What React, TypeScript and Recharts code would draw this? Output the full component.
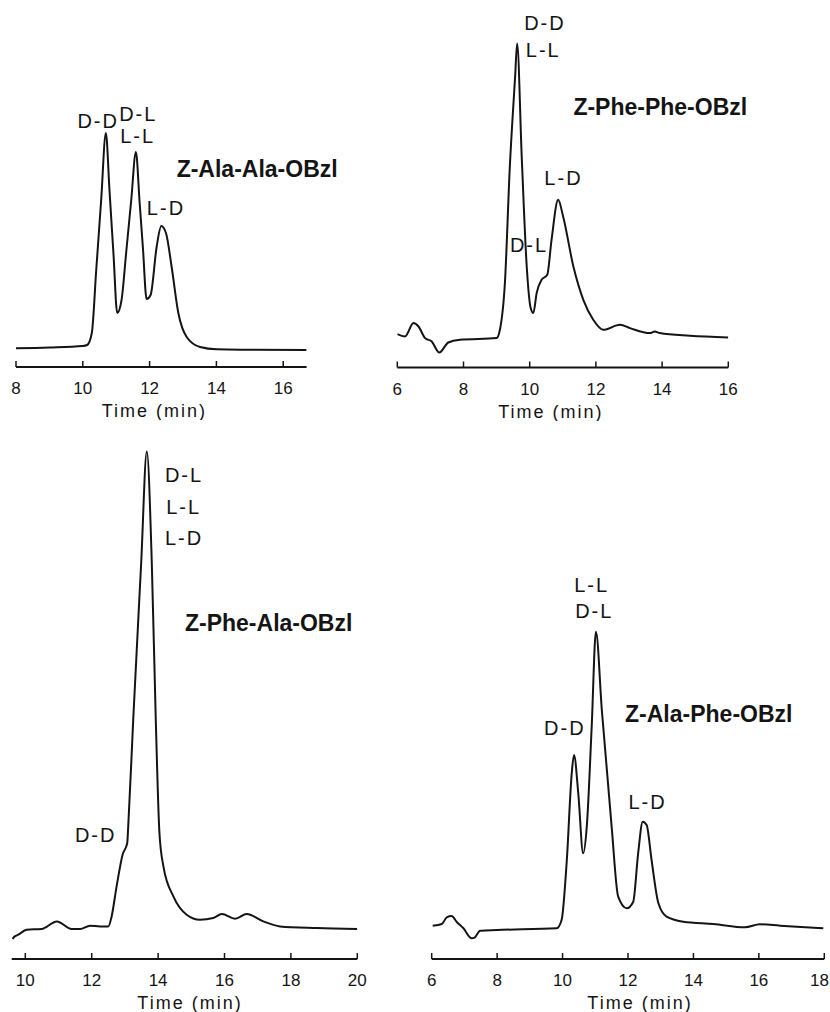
import React from "react";
import { LineChart, Line, XAxis, YAxis, ReferenceDot } from "recharts";

// Z-Ala-Ala-OBzl (top left)
const ALA_ALA_TIME = [8.0, 9.0, 10.0, 10.13, 10.27, 10.4, 10.55, 10.69, 10.8, 10.92, 11.03, 11.16, 11.3, 11.45, 11.59, 11.7, 11.8, 11.91, 12.03, 12.21, 12.35, 12.49, 12.66, 12.86, 13.11, 13.51, 14.01, 15.0, 16.7];
const ALA_ALA_SIGNAL = [18.7, 19.5, 21, 22, 34, 96, 167, 234, 176, 112, 54, 67, 115, 167, 215, 165, 119, 68, 72, 120, 141, 134, 100, 54, 30, 20, 17.7, 17.3, 17];
const ALA_ALA_TICKS = [8, 10, 12, 14, 16];

// Z-Phe-Phe-OBzl (top right)
const PHE_PHE_TIME = [6.0, 6.23, 6.49, 6.64, 6.84, 7.04, 7.27, 7.54, 7.89, 9.0, 9.1, 9.25, 9.4, 9.56, 9.62, 9.76, 9.91, 10.03, 10.11, 10.21, 10.36, 10.53, 10.66, 10.86, 11.01, 11.32, 11.62, 11.92, 12.22, 12.73, 13.03, 13.63, 13.78, 13.93, 14.84, 16.0];
const PHE_PHE_SIGNAL = [33.4, 31, 44.4, 41, 29.4, 26, 15, 25, 27.7, 29.4, 37.7, 84, 201, 291, 324, 210, 101, 59.4, 54.4, 74.4, 87.7, 92.7, 127.7, 167.7, 151, 101, 67.7, 47.7, 37.7, 42.7, 39.4, 34.4, 36, 34.4, 31.7, 30];
const PHE_PHE_TICKS = [6, 8, 10, 12, 14, 16];

// Z-Phe-Ala-OBzl (bottom left)
const PHE_ALA_TIME = [9.62, 9.66, 9.79, 10.04, 10.49, 10.95, 11.4, 11.65, 11.95, 12.25, 12.5, 12.6, 12.75, 12.93, 13.07, 13.1, 13.25, 13.49, 13.66, 13.81, 13.93, 14.04, 14.16, 14.46, 14.86, 15.26, 15.66, 15.92, 16.32, 16.67, 17.17, 17.67, 18.78, 20.0];
const PHE_ALA_SIGNAL = [20, 22, 24.3, 29.3, 30, 37.6, 30, 30, 33.3, 32.6, 32.6, 42.6, 72.6, 104.3, 116, 132.6, 239, 396, 507.6, 396, 239, 126, 92.6, 62.6, 44.3, 39.3, 41, 45, 40.3, 45, 37.6, 32.6, 31, 30];
const PHE_ALA_TICKS = [10, 12, 14, 16, 18, 20];

// Z-Ala-Phe-OBzl (bottom right)
const ALA_PHE_TIME = [6.03, 6.31, 6.46, 6.61, 6.76, 6.97, 7.22, 7.32, 7.48, 7.99, 9.82, 9.97, 10.13, 10.28, 10.35, 10.48, 10.63, 10.74, 10.89, 11.02, 11.2, 11.5, 11.7, 11.96, 12.16, 12.31, 12.45, 12.57, 12.72, 12.93, 13.18, 13.69, 14.61, 15.58, 16.03, 16.65, 17.97];
const ALA_PHE_SIGNAL = [33.3, 35, 41.7, 43, 37.3, 30.7, 20.7, 21.7, 28.3, 29, 30.7, 39, 99, 185.7, 204, 165.7, 105.7, 132.3, 232.3, 327.3, 249, 132.3, 62.3, 50.7, 57.3, 105.7, 137.3, 134, 99, 55.7, 42.3, 37.3, 35, 31.7, 34.7, 33.3, 30.7];
const ALA_PHE_TICKS = [6, 8, 10, 12, 14, 16, 18];

const INK = "#141414";
const LIGHT_FONT = "'Liberation Sans', Arial, sans-serif";
const BOLD_FONT = "'Liberation Sans', Arial, sans-serif";
const AXIS_H = 53;
const TICK_FONT = 17;

type Note = { text: string; t: number; v: number };

type PanelProps = {
  title: string;
  titleAt: [number, number];
  time: number[];
  signal: number[];
  ticks: number[];
  domain: [number, number];
  left: number;
  top: number;
  width: number;
  axisY: number;
  padLeft: number;
  padRight: number;
  notes: Note[];
  labelShift: number;
};

function TimeTick(props: any) {
  const { x, y, payload, maxX } = props;
  // keep a label that sits right on the page edge fully on the page
  const half = (String(payload.value).length * TICK_FONT * 0.556) / 2;
  const cx = maxX ? Math.min(x, maxX - half - 1) : x;
  return (
    <text x={cx} y={y} textAnchor="middle" fill={INK} fontFamily={LIGHT_FONT} fontSize={TICK_FONT}>
      {payload.value}
    </text>
  );
}

function Panel(p: PanelProps) {
  const data = p.time.map((t, i) => ({ t, v: p.signal[i] }));
  const plotH = p.axisY - p.top;

  const timeLabel = (lp: any) => {
    const vb = lp.viewBox || {};
    return (
      <text
        x={vb.x + vb.width / 2 + p.labelShift}
        y={vb.y + 50}
        textAnchor="middle"
        fill={INK}
        fontFamily={LIGHT_FONT}
        fontSize={18}
        letterSpacing={2}
      >
        Time (min)
      </text>
    );
  };

  return (
    <div style={{ position: "absolute", left: p.left, top: p.top }}>
      <LineChart
        width={p.width}
        height={plotH + AXIS_H}
        data={data}
        margin={{ top: 0, right: p.padRight, bottom: 0, left: p.padLeft }}
      >
        <XAxis
          type="number"
          dataKey="t"
          domain={p.domain}
          ticks={p.ticks}
          interval={0}
          allowDataOverflow
          height={AXIS_H}
          axisLine={{ stroke: INK, strokeWidth: 1.8 }}
          tickLine={{ stroke: INK, strokeWidth: 1.5 }}
          tickSize={-6}
          tickMargin={33}
          tick={<TimeTick maxX={p.left + p.width >= 830 ? p.width : 0} />}
          label={{ content: timeLabel }}
        />
        <YAxis hide domain={[0, plotH]} allowDataOverflow />
        <Line
          type="monotone"
          dataKey="v"
          stroke={INK}
          strokeWidth={2}
          dot={false}
          isAnimationActive={false}
        />
        {p.notes.map((n, i) => (
          <ReferenceDot
            key={i}
            x={n.t}
            y={n.v}
            r={0}
            ifOverflow="visible"
            shape={(s: any) => (
              <text
                x={s.cx}
                y={s.cy}
                dy="0.36em"
                textAnchor="middle"
                fill={INK}
                fontFamily={LIGHT_FONT}
                fontSize={20}
                letterSpacing={2}
              >
                {n.text}
              </text>
            )}
          />
        ))}
        <ReferenceDot
          x={p.titleAt[0]}
          y={p.titleAt[1]}
          r={0}
          ifOverflow="visible"
          shape={(s: any) => (
            <text
              x={s.cx}
              y={s.cy}
              dy="0.36em"
              textAnchor="start"
              fill={INK}
              fontFamily={BOLD_FONT}
              fontWeight="bold"
              fontSize={23}
            >
              {p.title}
            </text>
          )}
        />
      </LineChart>
    </div>
  );
}

export default function App() {
  return (
    <div
      style={{
        position: "absolute",
        left: 0,
        top: 0,
        width: 830,
        height: 1012,
        background: "#fff",
        overflow: "hidden",
      }}
    >
      <Panel
        title="Z-Ala-Ala-OBzl"
        titleAt={[12.81, 198.7]}
        time={ALA_ALA_TIME}
        signal={ALA_ALA_SIGNAL}
        ticks={ALA_ALA_TICKS}
        domain={[8, 16.7]}
        left={0}
        top={90}
        width={380}
        axisY={367}
        padLeft={16}
        padRight={73.4}
        labelShift={-7}
        notes={[
          { text: "D-D", t: 10.46, v: 246 },
          { text: "D-L", t: 11.66, v: 253.7 },
          { text: "L-L", t: 11.64, v: 231.5 },
          { text: "L-D", t: 12.49, v: 159.5 },
        ]}
      />
      <Panel
        title="Z-Phe-Phe-OBzl"
        titleAt={[11.32, 261]}
        time={PHE_PHE_TIME}
        signal={PHE_PHE_SIGNAL}
        ticks={PHE_PHE_TICKS}
        domain={[6, 16]}
        left={380}
        top={0}
        width={450}
        axisY={367.5}
        padLeft={17.3}
        padRight={101.7}
        labelShift={-12}
        notes={[
          { text: "D-D", t: 10.46, v: 345.2 },
          { text: "L-L", t: 10.41, v: 317.7 },
          { text: "L-D", t: 11.02, v: 190.2 },
          { text: "D-L", t: 9.98, v: 122.7 },
        ]}
      />
      <Panel
        title="Z-Phe-Ala-OBzl"
        titleAt={[14.81, 336]}
        time={PHE_ALA_TIME}
        signal={PHE_ALA_SIGNAL}
        ticks={PHE_ALA_TICKS}
        domain={[9.59, 20]}
        left={0}
        top={430}
        width={380}
        axisY={959}
        padLeft={11.7}
        padRight={22.7}
        labelShift={5.5}
        notes={[
          { text: "D-L", t: 14.78, v: 484.3 },
          { text: "L-L", t: 14.77, v: 452.6 },
          { text: "L-D", t: 14.78, v: 421 },
          { text: "D-D", t: 12.12, v: 124.3 },
        ]}
      />
      <Panel
        title="Z-Ala-Phe-OBzl"
        titleAt={[11.91, 245.7]}
        time={ALA_PHE_TIME}
        signal={ALA_PHE_SIGNAL}
        ticks={ALA_PHE_TICKS}
        domain={[6, 18]}
        left={410}
        top={430}
        width={420}
        axisY={959}
        padLeft={21.7}
        padRight={5.7}
        labelShift={12}
        notes={[
          { text: "L-L", t: 10.89, v: 374 },
          { text: "D-L", t: 10.97, v: 348 },
          { text: "D-D", t: 10.07, v: 231 },
          { text: "L-D", t: 12.6, v: 157 },
        ]}
      />
    </div>
  );
}
